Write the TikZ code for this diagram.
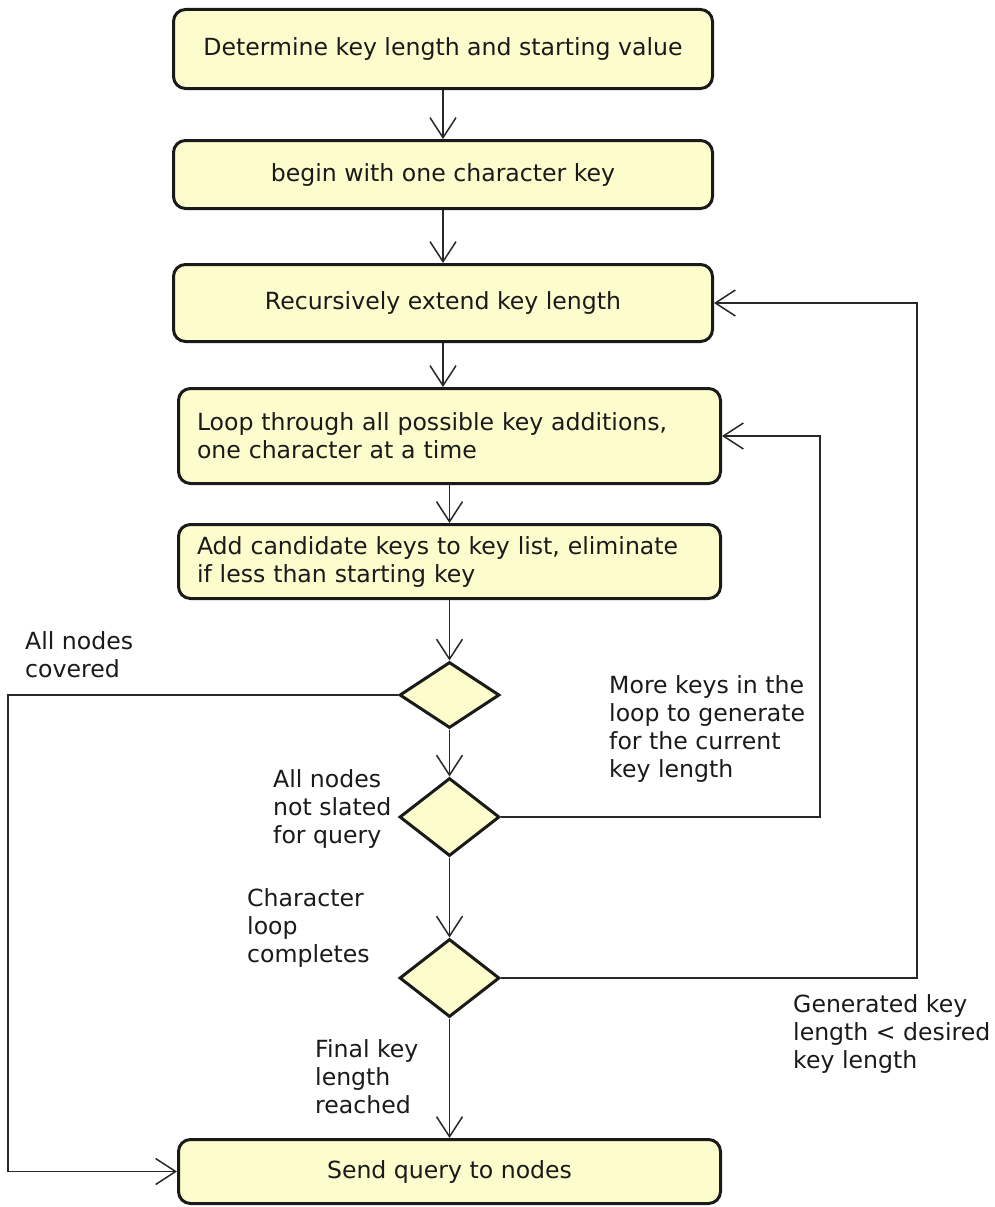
\documentclass[tikz,border=0pt]{standalone}
\usepackage{fontspec}
\setmainfont{DejaVu Sans}
\usetikzlibrary{arrows.meta,shapes.geometric}

\definecolor{boxfill}{RGB}{253,252,204}
\definecolor{ink}{RGB}{26,26,26}
\definecolor{wire}{RGB}{40,40,40}

\begin{document}
\begin{tikzpicture}[x=1pt,y=-1pt,
  font=\fontsize{23.6}{28}\selectfont,
  stepbox/.style={draw=ink, line width=3pt, fill=boxfill, rounded corners=12pt,
    inner sep=0pt, text=ink},
  widebox/.style={stepbox, minimum width=539pt},
  listbox/.style={stepbox, minimum width=542pt, text width=505pt, align=left},
  lowbox/.style={stepbox, minimum width=542pt},
  choice/.style={draw=ink, line width=3pt, fill=boxfill, shape=diamond,
    inner sep=0pt, minimum width=100pt},
  guard/.style={anchor=north west, inner sep=0pt, align=left, text=ink},
  flow/.style={draw=wire, line width=1.5pt,
    -{Straight Barb[length=20pt,width=26pt]}},
]
\useasboundingbox (0,0) rectangle (995,1207);

% main column of steps
\node[widebox, minimum height=79pt] (b1) at (443,49) {Determine key length and starting value};
\node[widebox, minimum height=68pt] (b2) at (443,174.5) {begin with one character key};
\node[widebox, minimum height=77pt] (b3) at (443,303) {Recursively extend key length};
\node[listbox, minimum height=95pt] (b4) at (449.5,436) {Loop through all possible key additions,\\one character at a time};
\node[listbox, minimum height=74pt] (b5) at (449.5,561.5) {Add candidate keys to key list, eliminate\\if less than starting key};

% decisions
\node[choice, minimum height=66pt] (d1) at (449.5,695) {};
\node[choice, minimum height=78pt] (d2) at (449.5,817) {};
\node[choice, minimum height=78pt] (d3) at (449.5,978) {};

\node[lowbox, minimum height=64pt] (b6) at (449.5,1171.5) {Send query to nodes};

% bends of the loop-back connectors
\coordinate (lc) at (8,1171.5);
\coordinate (rc1) at (820,436);
\coordinate (rc2) at (917,303);

% straight flow
\draw[flow] (b1.south) -- (b2.north);
\draw[flow] (b2.south) -- (b3.north);
\draw[flow] (b3.south) -- (b3.south |- b4.north);
\draw[flow] (b4.south) -- (b5.north);
\draw[flow] (b5.south) -- (d1.north);
\draw[flow] (d1.south) -- (d2.north);
\draw[flow] (d2.south) -- (d3.north);
\draw[flow] (d3.south) -- (b6.north);

% branches
\draw[flow] (d1.west) -| (lc) -- (b6.west);
\draw[flow] (d2.east) -| (rc1) -- (b4.east);
\draw[flow] (d3.east) -| (rc2) -- (b3.east);

% branch labels
\node[guard] (l1) at (25,631.5) {All nodes\\covered};
\node[guard] (l2) at (273,769.5) {All nodes\\not slated\\for query};
\node[guard] (l3) at (609,675.5) {More keys in the\\loop to generate\\for the current\\key length};
\node[guard] (l4) at (247,888.5) {Character\\loop\\completes};
\node[guard] (l5) at (315,1039.5) {Final key\\length\\reached};
\node[guard] (l6) at (793,994.5) {Generated key\\length < desired\\key length};
\end{tikzpicture}
\end{document}
